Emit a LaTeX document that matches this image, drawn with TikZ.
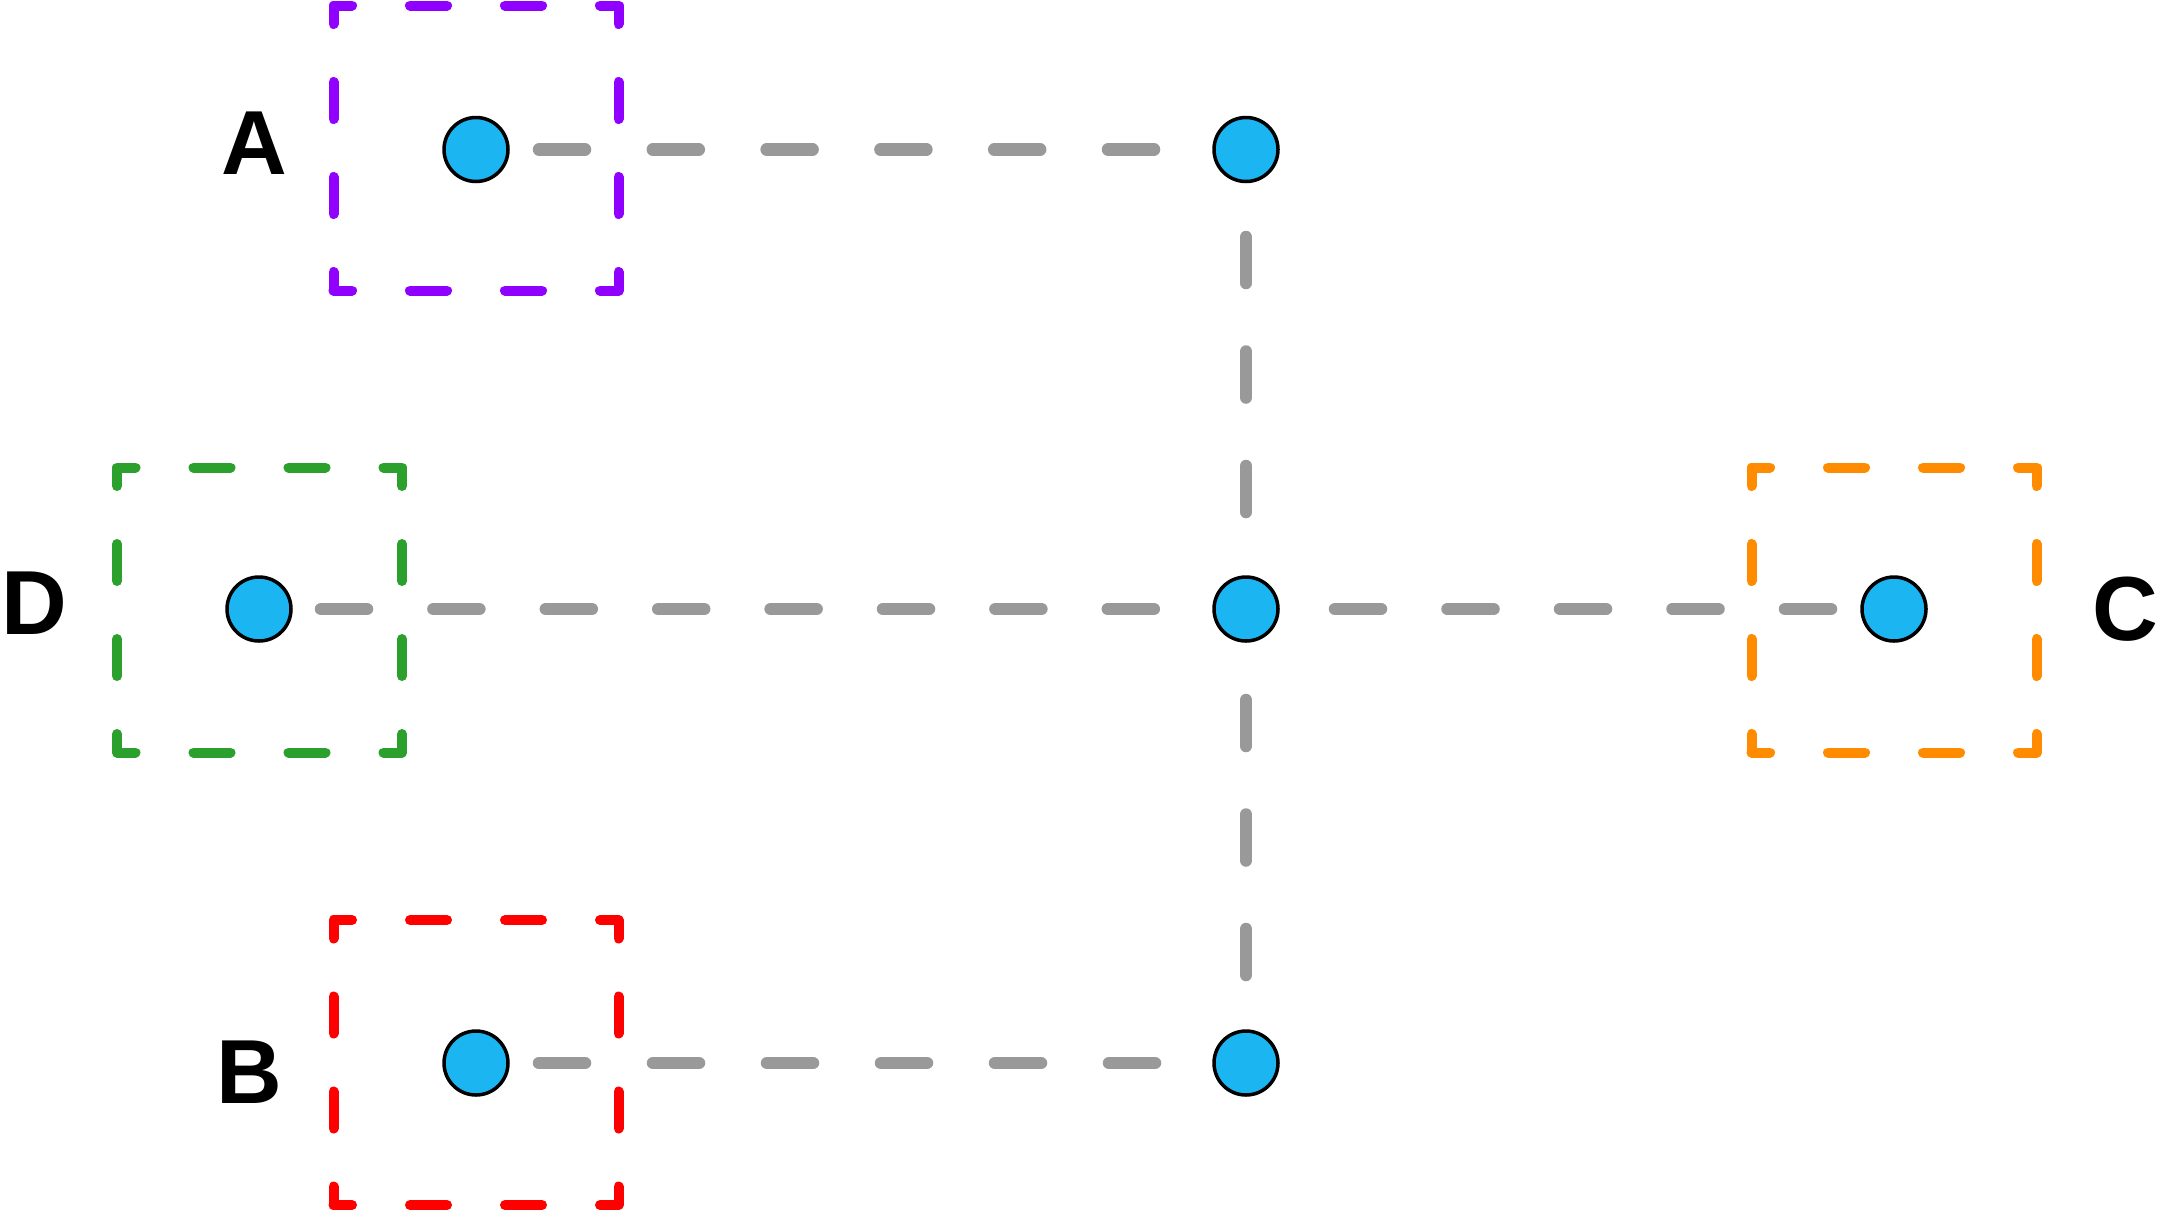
\documentclass[tikz,border=0pt]{standalone}
\usepackage{fontspec}
\setmainfont{Liberation Sans}
\definecolor{dotblue}{RGB}{27,182,242}
\definecolor{linegray}{RGB}{153,153,153}
\definecolor{grppurple}{RGB}{143,0,255}
\definecolor{grpgreen}{RGB}{44,160,44}
\definecolor{grporange}{RGB}{255,140,0}
\definecolor{grpred}{RGB}{255,0,0}
\tikzset{
  dot/.style={circle, draw=black, fill=dotblue, line width=3.5pt, minimum size=64pt, inner sep=0pt, outer sep=0pt},
  grp/.style={draw=#1, rectangle, line width=10pt, line cap=round, line join=round, minimum size=285pt, inner sep=0pt, outer sep=0pt, dash pattern=on 37pt off 58pt, dash phase=18.5pt},
  link/.style 2 args={draw=linegray, line width=12.5pt, line cap=round, dash pattern=on 46pt off #1pt, dash phase=#2pt},
  lbl/.style={inner sep=0pt, font=\fontsize{91}{100}\selectfont\bfseries}
}
\begin{document}
\begin{tikzpicture}[x=1pt, y=-1pt]
\useasboundingbox (0,0) rectangle (2159,1211);
% group boxes
\node[grp=grppurple] (boxA) at (476,148) {};
\node[grp=grpred]    (boxB) at (476,1062.5) {};
\node[grp=grpgreen]  (boxD) at (259.5,610) {};
\node[grp=grporange] (boxC) at (1894,610) {};
% dots
\node[dot] (A) at (476,149.5) {};
\node[dot] (B) at (476,1063) {};
\node[dot] (D) at (259,609) {};
\node[dot] (C) at (1894,609) {};
\node[dot] (hubT) at (1246,149.5) {};
\node[dot] (hub) at (1246,609) {};
\node[dot] (hubB) at (1246,1063) {};
% labels
\node[lbl] (labA) at (254,143) {A};
\node[lbl] (labB) at (249,1072) {B};
\node[lbl] (labD) at (34,603) {D};
\node[lbl] (labC) at (2125,609) {C};
% connectors
\draw[link={67.8}{82.8}] (A) -- (hubT);
\draw[link={68}{83}] (B) -- (hubB);
\draw[link={66.4}{82.4}] (D) -- (hub);
\draw[link={66.5}{81.5}] (C) -- (hub);
\draw[link={68.5}{59}] (hubT) -- (hub);
\draw[link={68.5}{55.5}] (hub) -- (hubB);
\end{tikzpicture}
\end{document}
